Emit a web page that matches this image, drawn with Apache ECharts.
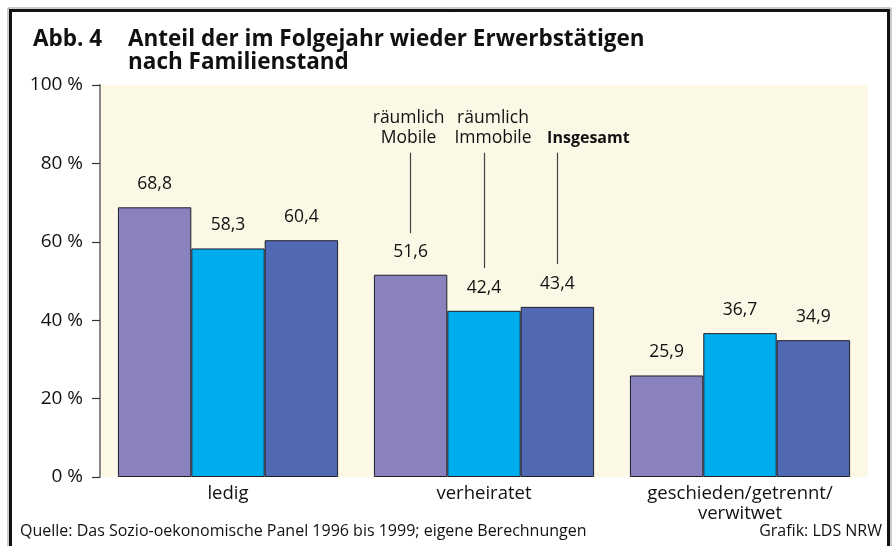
<!DOCTYPE html>
<html>
<head>
<meta charset="utf-8">
<script src="https://cdn.jsdelivr.net/npm/echarts@6/dist/echarts.min.js"></script>
<style>
  html, body { margin: 0; padding: 0; background: #fff; }
  #chart { width: 896px; height: 546px; }
</style>
</head>
<body>
<div id="chart"></div>
<script>
// categories and values
const categories = ["ledig", "verheiratet", "geschieden/getrennt/\nverwitwet"];
const mobile = [68.8, 51.6, 25.9];
const immobile = [58.3, 42.4, 36.7];
const total = [60.4, 43.4, 34.9];
const seriesNames = ["räumlich\nMobile", "räumlich\nImmobile", "Insgesamt"];
const yTicks = [0, 20, 40, 60, 80, 100];

// leader lines of the in-chart legend (from / to, in % units) on "verheiratet"
const leaderFrom = [62.2, 53.3, 54.3];
const leaderTo = [82.7, 82.7, 82.7];

const font = "'Open Sans', 'Noto Sans', sans-serif";
const colors = ["#8982bc", "#00adec", "#5169b3"];
const fmt = (v) => String(v).replace(".", ",");
// label text nudged sideways (padding) so the three legend texts don't touch
const legendPad = [[0, 4, 0, 0], [0, 0, 0, 18], [0, 0, 0, 62]];

function makeSeries(name, values, idx) {
  const isTotal = idx === 2;
  return {
    name: name,
    type: "bar",
    data: values,
    barGap: "0%",
    barCategoryGap: "14%",
    itemStyle: { color: colors[idx], borderColor: "#1d1d2b", borderWidth: 1 },
    label: {
      show: true,
      position: "top",
      distance: 14,
      color: "#111",
      fontFamily: font,
      fontSize: 17.5,
      formatter: (p) => fmt(p.value),
    },
    markLine: {
      silent: true,
      symbol: ["none", "none"],
      animation: false,
      lineStyle: { color: "#444", width: 1.2, type: "solid" },
      label: {
        show: true,
        position: "end",
        distance: isTotal ? 4 : 5,
        color: "#111",
        fontFamily: font,
        fontSize: isTotal ? 16 : 17.5,
        fontWeight: isTotal ? "bold" : "normal",
        lineHeight: 20,
        align: "center",
        padding: legendPad[idx],
        formatter: () => name,
      },
      data: [[
        { coord: [categories[1], leaderFrom[idx]] },
        { coord: [categories[1], leaderTo[idx]] },
      ]],
    },
  };
}

const chart = echarts.init(document.getElementById("chart"));
chart.setOption({
  animation: false,
  backgroundColor: "#fff",
  textStyle: { fontFamily: font },
  title: [
    {
      text: "Abb. 4",
      left: 33, top: 28, padding: 0,
      textStyle: { fontFamily: font, fontSize: 22.5, fontWeight: "bold", color: "#111", lineHeight: 23 },
    },
    {
      text: "Anteil der im Folgejahr wieder Erwerbstätigen\nnach Familienstand",
      left: 128, top: 28, padding: 0,
      textStyle: { fontFamily: font, fontSize: 22.5, fontWeight: "bold", color: "#111", lineHeight: 23 },
    },
  ],
  grid: {
    left: 100, right: 28, top: 85, bottom: 69,
    show: true, backgroundColor: "#fcf8e6", borderWidth: 0,
  },
  xAxis: {
    type: "category",
    data: categories,
    axisLine: { show: false },
    axisTick: { show: false },
    axisLabel: {
      color: "#111", fontFamily: font, fontSize: 18.5, lineHeight: 20, margin: 7,
    },
  },
  yAxis: {
    type: "value",
    min: yTicks[0],
    max: yTicks[yTicks.length - 1],
    interval: yTicks[1] - yTicks[0],
    splitLine: { show: false },
    axisLine: { show: true, lineStyle: { color: "#888", width: 2 } },
    axisTick: { show: true, length: 8, lineStyle: { color: "#333", width: 1.2 } },
    axisLabel: {
      color: "#111", fontFamily: font, fontSize: 19, margin: 17,
      formatter: (v) => v + " %",
    },
  },
  series: [
    makeSeries(seriesNames[0], mobile, 0),
    makeSeries(seriesNames[1], immobile, 1),
    makeSeries(seriesNames[2], total, 2),
  ],
  graphic: [
    {
      type: "rect", silent: true, z: 100,
      shape: { x: 8, y: 8, width: 883, height: 600 },
      style: { fill: "none", stroke: "#999", lineWidth: 1 },
    },
    {
      type: "rect", silent: true, z: 100,
      shape: { x: 10.5, y: 10.5, width: 878, height: 600 },
      style: { fill: "none", stroke: "#111", lineWidth: 3 },
    },
    {
      type: "text", left: 20, top: 523, silent: true,
      style: { text: "Quelle: Das Sozio-oekonomische Panel 1996 bis 1999; eigene Berechnungen", fill: "#111", font: "16px " + font },
    },
    {
      type: "text", right: 14, top: 523, silent: true,
      style: { text: "Grafik: LDS NRW", fill: "#111", font: "16px " + font },
    },
  ],
});
</script>
</body>
</html>
